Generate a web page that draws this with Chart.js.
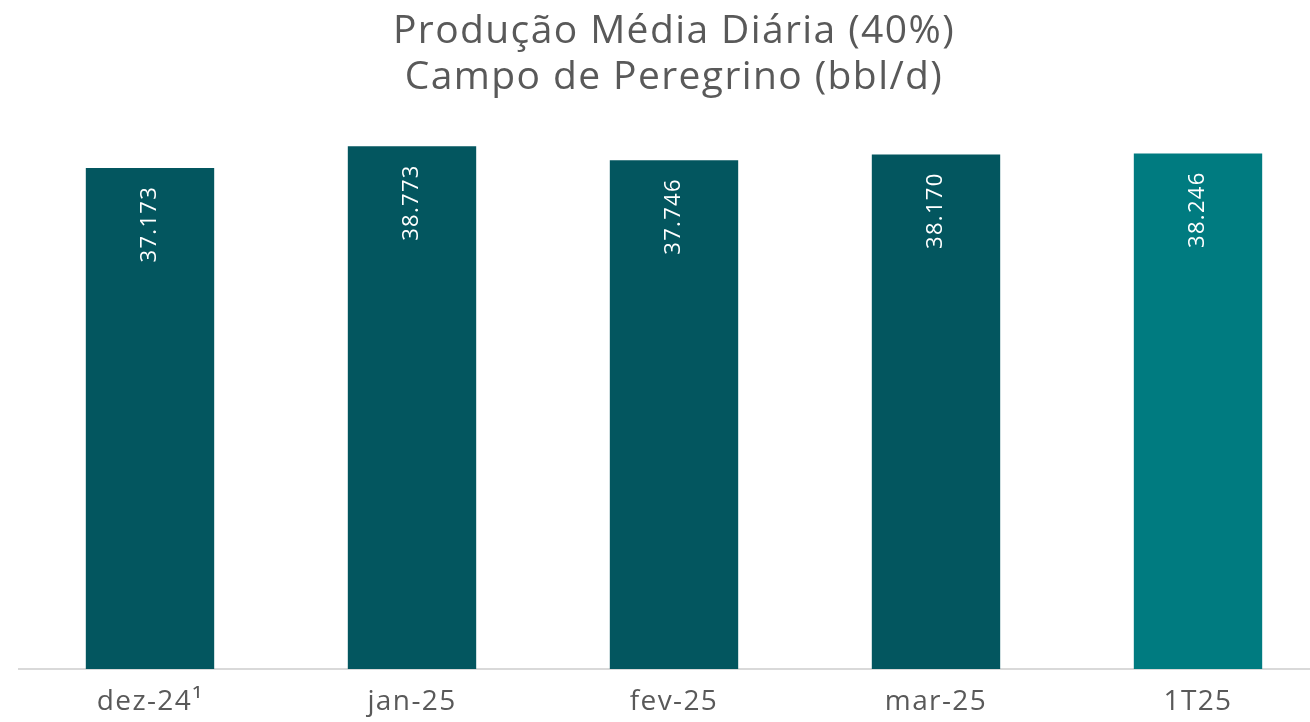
<!DOCTYPE html>
<html>
<head>
<meta charset="utf-8">
<script src="https://cdn.jsdelivr.net/npm/chart.js@4"></script>
<style>
  html, body { margin: 0; padding: 0; background: #fff; overflow: hidden; }
  #wrap { position: relative; width: 1330px; height: 722px; }
</style>
</head>
<body>
<div id="wrap"><canvas id="producaoChart"></canvas></div>
<script>
// dados
const categorias = ['dez-24\u00B9', 'jan-25', 'fev-25', 'mar-25', '1T25'];
const producao = [37173, 38773, 37746, 38170, 38246];
const cores = ['#03565F', '#03565F', '#03565F', '#03565F', '#007B80'];

const fonte = "'Open Sans', 'DejaVu Sans', sans-serif";

function formatarBR(v) {
    return String(v).replace(/\B(?=(\d{3})+(?!\d))/g, '.');
}

// espaçamento entre letras parecido com o original
const espacamento = {
    id: 'espacamento',
    beforeDraw(chart) {
        chart.ctx.letterSpacing = '1.4px';
    }
};

// rótulos verticais dentro das barras
const rotulosBarras = {
    id: 'rotulosBarras',
    afterDatasetsDraw(chart) {
        const ctx = chart.ctx;
        const meta = chart.getDatasetMeta(0);
        ctx.save();
        ctx.fillStyle = '#ffffff';
        ctx.font = '22px ' + fonte;
        ctx.letterSpacing = '1.3px';
        ctx.textAlign = 'right';
        ctx.textBaseline = 'middle';
        meta.data.forEach((bar, i) => {
            ctx.save();
            ctx.translate(bar.x, bar.y + 18);
            ctx.rotate(-Math.PI / 2);
            ctx.fillText(formatarBR(producao[i]), 0, 0);
            ctx.restore();
        });
        ctx.restore();
    }
};

const ctx = document.getElementById('producaoChart').getContext('2d');
const grafico = new Chart(ctx, {
    type: 'bar',
    data: {
        labels: categorias,
        datasets: [{
            data: producao,
            backgroundColor: cores,
            borderWidth: 0,
            categoryPercentage: 1,
            barPercentage: 0.49
        }]
    },
    options: {
        responsive: true,
        maintainAspectRatio: false,
        animation: false,
        layout: {
            padding: { left: 19, right: 1, top: 0, bottom: 0 }
        },
        plugins: {
            legend: { display: false },
            tooltip: { enabled: false },
            title: {
                display: true,
                text: ['Produção Média Diária (40%)', 'Campo de Peregrino (bbl/d)'],
                color: '#595959',
                font: { family: fonte, size: 39, weight: 'normal', lineHeight: 1.2 },
                padding: { top: 8, bottom: 8 }
            }
        },
        scales: {
            x: {
                grid: { display: false, drawTicks: false },
                border: { display: true, color: '#d9d9d9', width: 2 },
                ticks: {
                    color: '#595959',
                    font: { family: fonte, size: 28 },
                    padding: 16,
                    maxRotation: 0
                },
                afterFit(scale) {
                    scale.height = 53;
                }
            },
            y: {
                display: false,
                min: 0,
                max: 41500
            }
        }
    },
    plugins: [espacamento, rotulosBarras]
});
</script>
</body>
</html>
